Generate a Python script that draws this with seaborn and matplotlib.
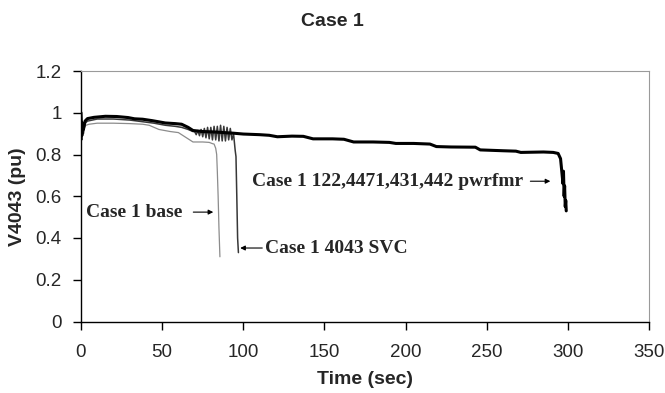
import matplotlib
matplotlib.use("Agg")
import matplotlib.pyplot as plt
import seaborn as sns
import pandas as pd
from matplotlib.ticker import FuncFormatter

# --- Case 1 voltage at bus 4043 (pu) versus time (sec) ---
time_pwrfmr = [0, 0.5, 1.0, 1.5, 2.5, 4, 8, 15, 22, 29, 33, 38, 44, 52, 58, 62, 66, 69,
               75, 82, 88, 94, 100, 110, 116, 121, 130, 137, 143, 155, 162, 168, 180,
               190, 194, 205, 215, 219, 228, 243, 246, 260, 268, 271, 285, 291, 294,
               295.5, 296.5, 297, 297.3, 297.7, 298, 298.4, 298.7, 299]
volt_pwrfmr = [1.0, 0.89, 0.95, 0.92, 0.96, 0.972, 0.978, 0.983, 0.982, 0.977, 0.971,
               0.969, 0.962, 0.951, 0.948, 0.945, 0.93, 0.915, 0.91, 0.908, 0.905, 0.902,
               0.898, 0.895, 0.892, 0.885, 0.888, 0.887, 0.875, 0.875, 0.873, 0.86, 0.86,
               0.858, 0.853, 0.853, 0.85, 0.838, 0.836, 0.835, 0.822, 0.818, 0.816, 0.81,
               0.812, 0.81, 0.805, 0.78, 0.70, 0.66, 0.72, 0.60, 0.65, 0.55, 0.58, 0.53]

time_svc = [0, 0.5, 1, 1.5, 2.5, 4, 10, 20, 30, 40, 45, 52, 58, 62, 66, 69,
            70, 71, 72, 73, 74, 75, 76, 77, 78, 79, 80, 81, 82, 83, 84, 85, 86, 87,
            88, 89, 90, 91, 92, 93, 94, 94.5, 95, 95.5, 96, 96.5, 97]
volt_svc = [1.0, 0.87, 0.93, 0.90, 0.95, 0.96, 0.97, 0.97, 0.965, 0.955, 0.95, 0.94,
            0.935, 0.93, 0.92, 0.91,
            0.91, 0.895, 0.915, 0.89, 0.92, 0.885, 0.925, 0.88, 0.93, 0.875, 0.93, 0.87,
            0.935, 0.87, 0.935, 0.865, 0.94, 0.865, 0.935, 0.865, 0.93, 0.87, 0.925,
            0.87, 0.90, 0.86, 0.82, 0.79, 0.60, 0.40, 0.33]

time_base = [0, 0.5, 1, 2, 3, 5, 10, 20, 30, 38, 42, 45, 48, 55, 60, 63, 66, 69, 75,
             79, 81, 82, 83, 83.6, 84, 84.5, 85, 85.6]
volt_base = [0.99, 0.90, 0.94, 0.93, 0.94, 0.945, 0.95, 0.95, 0.948, 0.945, 0.94,
             0.93, 0.92, 0.91, 0.905, 0.89, 0.875, 0.86, 0.86, 0.858, 0.852, 0.85,
             0.83, 0.80, 0.72, 0.60, 0.45, 0.31]

label_base = "Case 1 base"
label_svc = "Case 1 4043 SVC"
label_pwrfmr = "Case 1 122,4471,431,442 pwrfmr"

x_ticks = [0, 50, 100, 150, 200, 250, 300, 350]
y_ticks = [0, 0.2, 0.4, 0.6, 0.8, 1.0, 1.2]

sns.set_style("white")
plt.rcParams["font.family"] = ["Liberation Sans", "DejaVu Sans"]

fig = plt.figure(figsize=(6.65, 3.93), dpi=100)
ax = fig.add_axes([81 / 665, (393 - 321.5) / 393, 568 / 665, 250.5 / 393])

df_base = pd.DataFrame({"t": time_base, "v": volt_base})
df_svc = pd.DataFrame({"t": time_svc, "v": volt_svc})
df_pw = pd.DataFrame({"t": time_pwrfmr, "v": volt_pwrfmr})

sns.lineplot(data=df_base, x="t", y="v", ax=ax, color="#8c8c8c", lw=0.9,
             estimator=None, sort=False)
sns.lineplot(data=df_svc, x="t", y="v", ax=ax, color="#383838", lw=1.1,
             estimator=None, sort=False)
sns.lineplot(data=df_pw, x="t", y="v", ax=ax, color="black", lw=2.2,
             estimator=None, sort=False)

ax.set_xlim(0, 350)
ax.set_ylim(0, 1.2)
ax.set_xticks(x_ticks)
ax.set_yticks(y_ticks)
ax.yaxis.set_major_formatter(FuncFormatter(lambda v, p: f"{v:g}"))

for side in ("left", "bottom"):
    ax.spines[side].set_color("black")
    ax.spines[side].set_linewidth(1.0)
for side in ("top", "right"):
    ax.spines[side].set_color("#9a9a9a")
    ax.spines[side].set_linewidth(0.8)

ax.tick_params(axis="both", which="major", direction="out", length=6, width=1,
               color="black", labelsize=13.5, left=True, bottom=True)
ax.tick_params(axis="x", pad=10)
ax.tick_params(axis="y", pad=8)

ax.set_xlabel("Time (sec)", fontsize=14, fontweight="bold", va="center")
ax.xaxis.set_label_coords(0.5, -(380 - 321.5) / 250.5)
ax.set_ylabel("V4043 (pu)", fontsize=14, fontweight="bold", va="center")
ax.yaxis.set_label_coords(-(81 - 18) / 568, 0.5)

fig.text(332 / 665, 1 - 21 / 393, "Case 1", ha="center", va="center",
         fontsize=14, fontweight="bold")

# curve labels with small arrows
serif = ["Liberation Serif", "DejaVu Serif"]
arrow = dict(arrowstyle="-|>", color="black", lw=0.8, mutation_scale=7,
             shrinkA=0, shrinkB=0)

ax.text(65.5, 0.524, label_base + " ", ha="right", va="center", fontsize=14,
        fontweight="bold", family=serif)
ax.annotate("", xy=(81.5, 0.524), xytext=(69.2, 0.524), arrowprops=arrow)

ax.text(113.6, 0.352, label_svc, ha="left", va="center", fontsize=14,
        fontweight="bold", family=serif)
ax.annotate("", xy=(98.1, 0.352), xytext=(111.7, 0.352), arrowprops=arrow)

ax.text(272.5, 0.672, label_pwrfmr, ha="right", va="center", fontsize=14,
        fontweight="bold", family=serif)
ax.annotate("", xy=(289.2, 0.672), xytext=(276.9, 0.672), arrowprops=arrow)

fig.savefig("out.png", dpi=100)
